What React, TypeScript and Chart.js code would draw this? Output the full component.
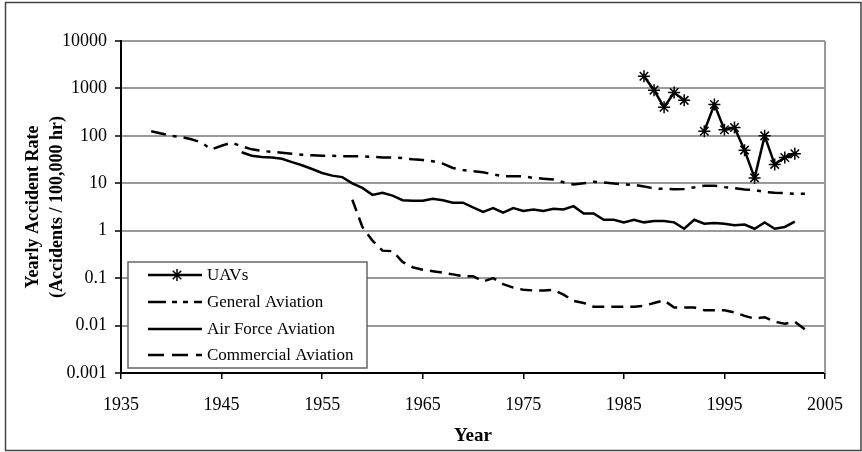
import React, { useEffect, useRef } from "react";
import { Chart, registerables } from "chart.js";

Chart.register(...registerables);

// ---------- data ----------
const seriesLabels = ["UAVs", "General Aviation", "Air Force Aviation", "Commercial Aviation"];

const uavYears = [1987, 1988, 1989, 1990, 1991, 1992, 1993, 1994, 1995, 1996, 1997, 1998, 1999, 2000, 2001, 2002];
const uavRates = [1800, 920, 400, 820, 560, null, 125, 460, 135, 150, 50, 13, 100, 25, 35, 42];

const gaYears = [
  1938, 1939, 1940, 1941, 1942, 1943, 1944, 1945, 1946, 1947, 1948, 1949, 1950, 1951, 1952, 1953, 1954, 1955,
  1956, 1957, 1958, 1959, 1960, 1961, 1962, 1963, 1964, 1965, 1966, 1967, 1968, 1969, 1970, 1971, 1972, 1973,
  1974, 1975, 1976, 1977, 1978, 1979, 1980, 1981, 1982, 1983, 1984, 1985, 1986, 1987, 1988, 1989, 1990, 1991,
  1992, 1993, 1994, 1995, 1996, 1997, 1998, 1999, 2000, 2001, 2002, 2003,
];
const gaRates = [
  125, 112, 100, 95, 85, 72, 52, 62, 72, 60, 52, 48, 46, 44, 42, 40, 39, 38,
  38, 37, 37, 37, 36, 35, 35, 34, 32, 31, 29, 26, 21, 19, 18, 17, 15.5, 14,
  14, 14, 13, 12.5, 12, 10.5, 9.4, 10, 10.8, 10.4, 9.9, 9.4, 9.3, 8.6, 7.8, 7.6, 7.5, 7.6,
  8.2, 8.9, 8.9, 8.3, 7.9, 7.4, 7.2, 6.6, 6.3, 6.2, 6.0, 6.0,
];

const afYears = [
  1947, 1948, 1949, 1950, 1951, 1952, 1953, 1954, 1955, 1956, 1957, 1958, 1959, 1960, 1961, 1962, 1963, 1964,
  1965, 1966, 1967, 1968, 1969, 1970, 1971, 1972, 1973, 1974, 1975, 1976, 1977, 1978, 1979, 1980, 1981, 1982,
  1983, 1984, 1985, 1986, 1987, 1988, 1989, 1990, 1991, 1992, 1993, 1994, 1995, 1996, 1997, 1998, 1999, 2000,
  2001, 2002,
];
const afRates = [
  45, 38, 36, 35, 33, 28, 24, 20, 16.5, 14.5, 13.5, 10, 8, 5.7, 6.3, 5.5, 4.4, 4.3,
  4.3, 4.7, 4.4, 3.9, 3.9, 3.1, 2.5, 3.0, 2.4, 3.0, 2.6, 2.8, 2.6, 2.9, 2.8, 3.3, 2.3, 2.3,
  1.7, 1.7, 1.5, 1.7, 1.5, 1.6, 1.6, 1.5, 1.1, 1.7, 1.4, 1.45, 1.4, 1.3, 1.35, 1.1, 1.5, 1.1,
  1.2, 1.55,
];

const caYears = [
  1958, 1959, 1960, 1961, 1962, 1963, 1964, 1965, 1966, 1967, 1968, 1969, 1970, 1971, 1972, 1973, 1974, 1975,
  1976, 1977, 1978, 1979, 1980, 1981, 1982, 1983, 1984, 1985, 1986, 1987, 1988, 1989, 1990, 1991, 1992, 1993,
  1994, 1995, 1996, 1997, 1998, 1999, 2000, 2001, 2002, 2003,
];
const caRates = [
  4.5, 1.2, 0.62, 0.38, 0.37, 0.22, 0.17, 0.15, 0.14, 0.13, 0.12, 0.11, 0.11, 0.085, 0.1, 0.075, 0.063, 0.057,
  0.055, 0.055, 0.057, 0.045, 0.033, 0.03, 0.025, 0.025, 0.025, 0.025, 0.025, 0.026, 0.03, 0.034, 0.024, 0.024, 0.024, 0.021,
  0.021, 0.021, 0.019, 0.016, 0.014, 0.015, 0.012, 0.011, 0.012, 0.0083,
];

const xTicks = [1935, 1945, 1955, 1965, 1975, 1985, 1995, 2005];
const yTicks = [0.001, 0.01, 0.1, 1, 10, 100, 1000, 10000];

const xTitle = "Year";
const yTitle = ["Yearly Accident Rate", "(Accidents / 100,000 hr)"];

// ---------- helpers ----------
const toPoints = (xs: number[], ys: (number | null)[]) => xs.map((x, i) => ({ x, y: ys[i] }));

const SERIF = "'Liberation Serif', 'Times New Roman', serif";

const legendDashes: number[][] = [[], [18, 6, 5, 6, 5, 6], [], [16, 8]];

const framePlugin = {
  id: "frameAndLegend",
  beforeDraw(chart: any) {
    const ctx = chart.ctx;
    ctx.save();
    ctx.fillStyle = "#ffffff";
    ctx.fillRect(0, 0, chart.width, chart.height);
    ctx.restore();
  },
  beforeDatasetsDraw(chart: any) {
    const ctx = chart.ctx;
    const ca = chart.chartArea;
    ctx.save();
    ctx.strokeStyle = "#9a9a9a";
    ctx.lineWidth = 2;
    ctx.beginPath();
    ctx.moveTo(ca.right, ca.top);
    ctx.lineTo(ca.right, ca.bottom);
    ctx.stroke();
    ctx.restore();
  },
  afterDatasetsDraw(chart: any) {
    const ctx = chart.ctx;
    const ca = chart.chartArea;
    const x0 = ca.left + 7;
    const y0 = ca.bottom - 111;
    const w = 239;
    const h = 106;
    ctx.save();
    ctx.fillStyle = "#ffffff";
    ctx.fillRect(x0, y0, w, h);
    ctx.strokeStyle = "#666666";
    ctx.lineWidth = 1.5;
    ctx.strokeRect(x0, y0, w, h);
    const rows = [13, 40, 67, 93];
    chart.data.datasets.forEach((ds: any, i: number) => {
      const ry = y0 + rows[i];
      ctx.strokeStyle = "#000";
      ctx.lineWidth = 2.5;
      ctx.setLineDash(legendDashes[i]);
      ctx.beginPath();
      ctx.moveTo(x0 + 20, ry);
      ctx.lineTo(x0 + 74, ry);
      ctx.stroke();
      ctx.setLineDash([]);
      if (ds.pointStyle === "star") {
        const cx = x0 + 49;
        const r = 6;
        ctx.lineWidth = 1.5;
        ctx.beginPath();
        ctx.moveTo(cx, ry - r);
        ctx.lineTo(cx, ry + r);
        const d = r * Math.SQRT1_2;
        ctx.moveTo(cx - d, ry - d);
        ctx.lineTo(cx + d, ry + d);
        ctx.moveTo(cx - d, ry + d);
        ctx.lineTo(cx + d, ry - d);
        ctx.stroke();
      }
      ctx.fillStyle = "#000";
      ctx.font = `17px ${SERIF}`;
      ctx.textBaseline = "middle";
      ctx.textAlign = "left";
      ctx.fillText(ds.label, x0 + 79, ry + 1);
    });
    ctx.restore();
  },
  afterDraw(chart: any) {
    const ctx = chart.ctx;
    ctx.save();
    ctx.strokeStyle = "#444";
    ctx.lineWidth = 1.5;
    ctx.strokeRect(5.5, 2.5, chart.width - 6.5, chart.height - 4);
    ctx.restore();
  },
};

export default function App() {
  const canvasRef = useRef<HTMLCanvasElement | null>(null);

  useEffect(() => {
    if (!canvasRef.current) return;
    const chart = new Chart(canvasRef.current, {
      type: "line",
      data: {
        datasets: [
          {
            label: seriesLabels[0],
            data: toPoints(uavYears, uavRates),
            borderColor: "#000",
            borderWidth: 2.5,
            pointStyle: "star",
            pointRadius: 6,
            pointBorderWidth: 1.5,
            pointBorderColor: "#000",
            pointBackgroundColor: "#000",
            spanGaps: false,
            tension: 0,
          },
          {
            label: seriesLabels[1],
            data: toPoints(gaYears, gaRates),
            borderColor: "#000",
            borderWidth: 2.5,
            borderDash: [15, 7, 4, 7],
            pointRadius: 0,
            tension: 0,
          },
          {
            label: seriesLabels[2],
            data: toPoints(afYears, afRates),
            borderColor: "#000",
            borderWidth: 2.5,
            pointRadius: 0,
            tension: 0,
          },
          {
            label: seriesLabels[3],
            data: toPoints(caYears, caRates),
            borderColor: "#000",
            borderWidth: 2.5,
            borderDash: [12, 7],
            pointRadius: 0,
            tension: 0,
          },
        ],
      },
      options: {
        responsive: false,
        animation: false,
        devicePixelRatio: 1,
        layout: { padding: { left: 0, right: 37, top: 41, bottom: 0 } },
        plugins: {
          legend: { display: false },
          tooltip: { enabled: false },
        },
        scales: {
          x: {
            type: "linear",
            min: 1935,
            max: 2005,
            afterBuildTicks: (s: any) => {
              s.ticks = xTicks.map((v) => ({ value: v }));
            },
            afterFit: (s: any) => {
              s.height = 79;
            },
            grid: {
              drawOnChartArea: false,
              drawTicks: true,
              tickLength: 6,
              color: "#000",
              lineWidth: 1.5,
            },
            border: { color: "#000", width: 2 },
            ticks: {
              callback: (v: any) => String(v),
              font: { family: SERIF, size: 18 },
              color: "#000",
              padding: 15,
              maxRotation: 0,
              autoSkip: false,
            },
            title: {
              display: true,
              text: xTitle,
              font: { family: SERIF, size: 19, weight: "bold" },
              color: "#000",
              padding: { top: 0, bottom: 5 },
            },
          },
          y: {
            type: "logarithmic",
            min: 0.001,
            max: 10000,
            afterBuildTicks: (s: any) => {
              s.ticks = yTicks.map((v) => ({ value: v }));
            },
            afterFit: (s: any) => {
              s.width = 121;
            },
            grid: {
              color: "#9a9a9a",
              lineWidth: 2,
              tickLength: 6,
              tickColor: "#000",
              tickWidth: 1.5,
            },
            border: { color: "#000", width: 2 },
            ticks: {
              callback: (v: any) => String(v),
              font: { family: SERIF, size: 18 },
              color: "#000",
              padding: 8,
              autoSkip: false,
            },
            title: {
              display: true,
              text: yTitle,
              font: { family: SERIF, size: 18, weight: "bold", lineHeight: 1.333 },
              color: "#000",
              padding: { top: 21, bottom: 0 },
            },
          },
        },
      } as any,
      plugins: [framePlugin],
    });
    return () => chart.destroy();
  }, []);

  return (
    <div style={{ position: "absolute", left: 0, top: 0, width: 862, height: 452, background: "#fff" }}>
      <canvas ref={canvasRef} width={862} height={452} style={{ display: "block", width: 862, height: 452 }} />
    </div>
  );
}
